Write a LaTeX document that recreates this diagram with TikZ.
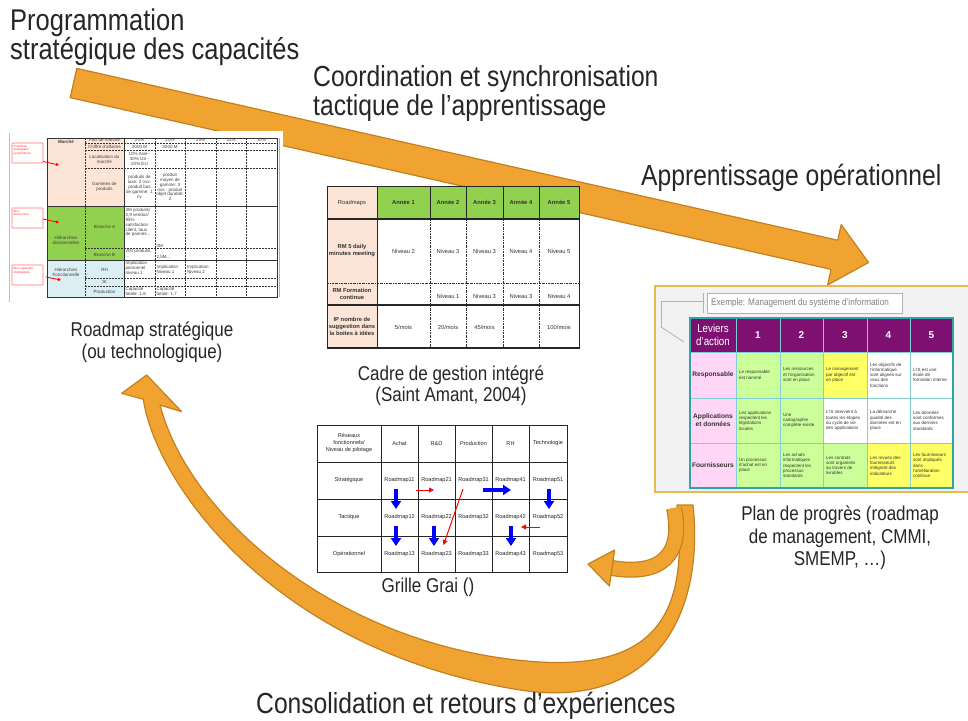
\documentclass[tikz,border=0pt]{standalone}
\usepackage{fontspec}
\setmainfont{Liberation Sans}
\newfontfamily\condfont[FakeStretch=0.85]{Liberation Sans}
\usetikzlibrary{arrows.meta}
\hyphenpenalty=10000
\exhyphenpenalty=10000
\definecolor{arrfill}{RGB}{240,163,48}
\definecolor{arrline}{RGB}{196,128,30}
\definecolor{peach}{RGB}{252,228,214}
\definecolor{xlgreen}{RGB}{146,208,80}
\definecolor{ltblue}{RGB}{218,238,243}
\definecolor{purp}{RGB}{125,16,112}
\definecolor{pinkc}{RGB}{255,214,245}
\definecolor{lgreen}{RGB}{204,255,153}
\definecolor{yel}{RGB}{255,255,102}
\definecolor{teal1}{RGB}{49,165,170}
\definecolor{teal2}{RGB}{130,205,210}
\definecolor{framec}{RGB}{232,185,80}
\definecolor{framefill}{RGB}{242,242,242}
\definecolor{hdrc}{RGB}{38,38,38}
\begin{document}
\begin{tikzpicture}[x=1pt,y=-1pt,
  hdr/.style={font=\condfont\fontsize{29}{29}\selectfont, text=hdrc, inner sep=0},
  lbl/.style={font=\condfont\fontsize{20}{22}\selectfont, text=hdrc, inner sep=0},
  ta/.style={font=\fontsize{4.5}{4.9}\selectfont, align=center, inner sep=0, text=black!75},
  tab/.style={font=\bfseries\fontsize{4.5}{4.9}\selectfont, align=center, inner sep=0, text=black!75},
  tb/.style={font=\fontsize{5.8}{7}\selectfont, align=center, inner sep=0, text=black!80},
  tbb/.style={font=\bfseries\fontsize{5.8}{7}\selectfont, align=center, inner sep=0, text=black!80},
  tc/.style={font=\fontsize{5.6}{7}\selectfont, align=center, inner sep=0, text=black!85},
  td/.style={font=\fontsize{4.5}{5.3}\selectfont, text width=34pt, align=flush left, inner sep=0, anchor=west, text=black!80},
  redtxt/.style={font=\fontsize{3}{3.6}\selectfont, text=red!80, align=left, inner sep=0, anchor=north west},
  redbox/.style={draw=red!55, line width=0.7pt, fill=white, rounded corners=0.5pt},
  tdash/.style={line width=0.7pt, dash pattern=on 2pt off 1pt, black!80},
  tsolid/.style={line width=0.9pt, black!80},
  t2dash/.style={line width=0.5pt, dash pattern=on 2pt off 1pt on 0.5pt off 1pt, black!80},
  bluearr/.style={blue, line width=3.6pt, -{Triangle[width=10pt,length=8pt]}},
  redarr/.style={red, line width=1pt, -{Triangle[width=5pt,length=5pt]}},
  bigarr/.style={fill=arrfill, draw=arrline, line width=1.2pt, line join=round}
]
\useasboundingbox (0,0) rectangle (968,720);
\fill[white] (0,0) rectangle (968,720);

% ---------- straight big arrow ----------
\coordinate (sa1) at (76.8,68.4);
\coordinate (sa2) at (837.7,240.2);
\coordinate (sa3) at (841.2,224.6);
\coordinate (sa4) at (868.5,262.5);
\coordinate (sa5) at (827.6,285.0);
\coordinate (sa6) at (831.1,269.4);
\coordinate (sa7) at (70.2,97.6);
\draw[bigarr] (sa1) -- (sa2) -- (sa3) -- (sa4) -- (sa5) -- (sa6) -- (sa7) -- cycle;

% ---------- big curved arrow (outline) ----------
\coordinate (bn1) at (143.3,399.3);
\coordinate (bb1) at (121.7,393.3);
\coordinate (btip) at (146.7,375);
\coordinate (bb2) at (181.7,411.7);
\coordinate (bn2) at (160,405);
\coordinate (bi1) at (540,662);
\coordinate (bt1) at (677,505);
\coordinate (bt2) at (693,505);
\coordinate (bo1) at (520,690);
\draw[bigarr] (bn1) -- (bb1) -- (btip) -- (bb2) -- (bn2)
  .. controls (190,520) and (345,650) .. (bi1)
  .. controls (650,668) and (690,620) .. (bt1) -- (bt2)
  .. controls (705,620) and (650,710) .. (bo1)
  .. controls (270,650) and (155,480) .. (bn1) -- cycle;

% ---------- small curved arrow ----------
\def\smallc{(674,508) .. controls (684,556) and (660,576) .. (612,568)}
\draw[line width=16pt, arrline] \smallc;
\draw[line width=13.6pt, arrfill] \smallc;
\coordinate (sm1) at (614.6,550);
\coordinate (sm2) at (588,564);
\coordinate (sm3) at (609.4,586);
\draw[bigarr] (sm1) -- (sm2) -- (sm3) -- cycle;

% ---------- headings ----------
\node[hdr, font=\condfont\fontsize{30}{30}\selectfont, anchor=base west] (h1a) at (10,30) {Programmation};
\node[hdr, font=\condfont\fontsize{30}{30}\selectfont, anchor=base west] (h1b) at (10,59) {stratégique des capacités};
\node[hdr, anchor=base west] (h2a) at (313,86) {Coordination et synchronisation};
\node[hdr, anchor=base west] (h2b) at (313,115) {tactique de l’apprentissage};
\node[hdr, anchor=base west] (h3) at (641,185) {Apprentissage opérationnel};
\node[hdr, anchor=base west] (h4) at (256,713) {Consolidation et retours d’expériences};

% ---------- labels ----------
\node[lbl, anchor=base] (l1a) at (152,336) {Roadmap stratégique};
\node[lbl, anchor=base] (l1b) at (152,358) {(ou technologique)};
\node[lbl, anchor=base] (l2a) at (451,380) {Cadre de gestion intégré};
\node[lbl, anchor=base] (l2b) at (451,401) {(Saint Amant, 2004)};
\node[lbl, anchor=base] (l3) at (428,592) {Grille Grai ()};
\node[lbl, anchor=base] (l4a) at (840,520) {Plan de progrès (roadmap};
\node[lbl, anchor=base] (l4b) at (840,543) {de management, CMMI,};
\node[lbl, anchor=base] (l4c) at (840,565) {SMEMP, …)};

% ================= Table 1 : roadmap strategique =================
\fill[white] (8,131) rectangle (283,304);
\draw[gray!50, line width=1pt] (9,133) -- (9,302);
\fill[peach] (47,138) rectangle (124,206);
\fill[xlgreen] (47,206) rectangle (124,260);
\fill[ltblue] (47,260) rectangle (124,297);
\foreach \yy in {143,150,168,248,278,286} \draw[tdash] (85,\yy) -- (277,\yy);
\foreach \xx in {85,155,185,216,246} \draw[tdash] (\xx,138) -- (\xx,297);
\draw[tsolid] (47,138) rectangle (277,297);
\draw[tsolid] (124,138) -- (124,297);
\draw[tsolid] (47,206) -- (277,206);
\draw[tsolid] (47,260) -- (277,260);
\draw[gray!60, line width=0.5pt] (279,138) -- (279,297);
% red boxes
\draw[redbox] (12,143) rectangle (43,163);
\draw[redbox] (12,208) rectangle (43,228);
\draw[redbox] (12,265) rectangle (43,285);
\node[redtxt] (rb1) at (13.5,145) {Roadmap\\stratégique\\(exportation)};
\node[redtxt] (rb2) at (13.5,210) {Bloc\\décisionnel};
\node[redtxt] (rb3) at (13.5,267) {Bloc capacités\\stratégiques};
\draw[red, line width=0.8pt, -{Triangle[width=3pt,length=3pt]}] (43,161.5) -- (59,165);
\draw[red, line width=0.8pt, -{Triangle[width=3pt,length=3pt]}] (43,219) -- (59,222.5);
\draw[red, line width=0.8pt, -{Triangle[width=3pt,length=3pt]}] (46,277) -- (61,280);
% texts col 1
\node[tab] (m1) at (66,141.5) {Marché};
\node[ta] (m2) at (66,240) {Hiérarchies\\divisionnelles};
\node[ta] (m3) at (66,272) {Hiérarchies\\Fonctionnelle};
% col 2
\node[ta] (c21) at (104.5,140.3) {Part de marché};
\node[ta] (c22) at (104.5,146.6) {Chiffre d’affaires};
\node[ta] (c23) at (104.5,159) {Localisation du\\marché};
\node[ta] (c24) at (104.5,187) {Gammes de\\produits};
\node[ta] (c25) at (104.5,227) {Branche A};
\node[ta] (c26) at (104.5,254.5) {Branche B};
\node[ta] (c27) at (104.5,269.5) {RH};
\node[ta] (c28) at (104.5,282) {SI};
\node[ta] (c29) at (104.5,291.5) {Production};
% col 3
\node[ta] (c31) at (139.5,140.3) {20\%};
\node[ta] (c32) at (139.5,146.6) {2000 M};
\node[ta] (c33) at (139.5,159) {10\% Asie -\\30\% US -\\20\% EU};
\node[ta] (c34) at (139.5,187) {produits de\\luxe: 2 nvx-\\produit bas\\de gamme: 1\\nv};
\node[ta, align=left, anchor=north west] (c35) at (125.5,208) {3M produits/\\2,9 vendus/\\95\%\\satisfaction\\client, taux\\de pannes...};
\node[ta, align=left, anchor=north west] (c36) at (125.5,249.5) {200 produits,\\...};
\node[ta, align=left, anchor=north west] (c37) at (125.5,261.5) {Implication\\personnel\\niveau 1};
\node[ta, align=left, anchor=north west] (c38) at (125.5,287) {Capacité\\totale: 1,6};
% col 4
\node[ta] (c41) at (170,140.3) {20\%};
\node[ta] (c42) at (170,146.6) {3000 M};
\node[ta] (c43) at (170,187) {produit\\moyen de\\gamme: 3\\nvx - produit\\objet durable:\\2};
\node[ta, anchor=west] (c44) at (156.5,245.5) {3M};
\node[ta, anchor=west] (c45) at (156.5,257.5) {2,5M...};
\node[ta, align=left, anchor=north west] (c46) at (156.5,265) {Implication\\Niveau 1};
\node[ta, align=left, anchor=north west] (c47) at (156.5,287) {Capacité\\totale: 1,7};
% col 5-7
\node[ta] (c51) at (200.5,140.3) {25\%};
\node[ta, align=left, anchor=north west] (c52) at (187,265) {Implication\\Niveau 2};
\node[ta] (c61) at (231,140.3) {22\%};
\node[ta] (c71) at (261.5,140.3) {30\%};

% ================= Table 2 : cadre de gestion =================
\fill[white] (327,186) rectangle (579,348);
\fill[peach] (327,186) rectangle (377,348);
\fill[xlgreen] (377,186) rectangle (579,219);
\foreach \xx in {430,466,503,539} \draw[t2dash] (\xx,219) -- (\xx,348);
\draw[t2dash] (327,283) -- (579,283);
\draw[line width=0.6pt, black!85] (327,186) rectangle (579,348);
\foreach \xx in {377,430,466,503,539} \draw[line width=0.6pt, black!85] (\xx,186) -- (\xx,219);
\draw[line width=0.6pt, black!85] (377,219) -- (377,348);
\draw[line width=1.5pt, black!85] (327,219) -- (579,219);
\draw[line width=1.5pt, black!85] (327,305) -- (579,305);
\draw[line width=1.2pt, black!85] (327,348) -- (579,348);
\node[tb] (k00) at (352,202.5) {Roadmaps};
\node[tbb] (k01) at (403.5,202.5) {Année 1};
\node[tbb] (k02) at (448,202.5) {Année 2};
\node[tbb] (k03) at (484.5,202.5) {Année 3};
\node[tbb] (k04) at (521,202.5) {Année 4};
\node[tbb] (k05) at (559,202.5) {Année 5};
\node[tbb] (k10) at (352,251) {RM 5 daily\\minutes meeting};
\node[tb] (k11) at (403.5,251) {Niveau 2};
\node[tb] (k12) at (448,251) {Niveau 3};
\node[tb] (k13) at (484.5,251) {Niveau 3};
\node[tb] (k14) at (521,251) {Niveau 4};
\node[tb] (k15) at (559,251) {Niveau 5};
\node[tbb] (k20) at (352,294) {RM Formation\\continue};
\node[tb] (k22) at (448,296) {Niveau 1};
\node[tb] (k23) at (484.5,296) {Niveau 3};
\node[tb] (k24) at (521,296) {Niveau 3};
\node[tb] (k25) at (559,296) {Niveau 4};
\node[tbb] (k30) at (352,326.5) {IP nombre de\\suggestion dans\\la boites à idées};
\node[tb] (k31) at (403.5,327) {5/mois};
\node[tb] (k32) at (448,327) {20/mois};
\node[tb] (k33) at (484.5,327) {45/mois};
\node[tb] (k35) at (559,327) {100/mois};

% ================= Table 3 : grille Grai =================
\fill[white] (317,425) rectangle (567,572);
\foreach \xx in {381,418,455,492,529} \draw[line width=0.6pt, black!85] (\xx,425) -- (\xx,572);
\foreach \yy in {462,499,536} \draw[line width=0.6pt, black!85] (317,\yy) -- (567,\yy);
\draw[line width=0.8pt, black!85] (317,425) rectangle (567,572);
\node[tc] (g00) at (349,443.5) {Réseaux\\fonctionnels/\\Niveau de pilotage};
\node[tc] (g01) at (399.5,443.5) {Achat};
\node[tc] (g02) at (436.5,443.5) {R\&D};
\node[tc] (g03) at (473.5,443.5) {Production};
\node[tc] (g04) at (510.5,443.5) {RH};
\node[tc] (g05) at (548,443.5) {Technologie};
\node[tc] (g10) at (349,480.5) {Stratégique};
\node[tc] (g20) at (349,517.5) {Tactique};
\node[tc] (g30) at (349,554) {Opérationnel};
\foreach \c/\xx in {1/399.5,2/436.5,3/473.5,4/510.5,5/548}{
  \node[tc] (g1\c) at (\xx,480.5) {Roadmap\c1};
  \node[tc] (g2\c) at (\xx,517.5) {Roadmap\c2};
  \node[tc] (g3\c) at (\xx,554) {Roadmap\c3};
}
\draw[bluearr] (396,489) -- (396,509);
\draw[bluearr] (396,526) -- (396,546);
\draw[bluearr] (434,526) -- (434,546);
\draw[bluearr] (549,489) -- (549,509);
\draw[bluearr] (511,526) -- (511,546);
\draw[bluearr] (483,490) -- (511,490);
\draw[redarr] (416,490) -- (434,490);
\draw[redarr] (463,489) -- (443.5,545);
\draw[redarr] (540,527) -- (521,527);

% ================= Table 4 : plan de progres =================
\draw[fill=framefill, draw=framec, line width=1.5pt] (655,286) rectangle (980,492);
\draw[gray!60, line width=0.8pt] (661,327) -- (684,342);
\draw[gray!60, line width=0.8pt] (661,327) -- (661,301) -- (703,301);
\draw[gray!60, line width=0.8pt] (703,292.5) -- (703,313);
\node[draw=gray!60, fill=white, line width=0.8pt, minimum width=195pt, minimum height=20pt, inner sep=0, anchor=north west] (ex) at (707,293) {};
\node[font=\condfont\fontsize{9.6}{11}\selectfont, text=gray, anchor=west, inner sep=0] (ext) at (711,303) {Exemple: Management du système d’information};
% fills
\fill[purp] (690,318) rectangle (953,352);
\fill[pinkc] (690,352) rectangle (736,488);
\fill[lgreen] (736,352) rectangle (823,398);
\fill[yel] (823,352) rectangle (867,398);
\fill[white] (867,352) rectangle (953,398);
\fill[lgreen] (736,398) rectangle (823,443);
\fill[white] (823,398) rectangle (953,443);
\fill[lgreen] (736,443) rectangle (867,488);
\fill[yel] (867,443) rectangle (953,488);
\foreach \xx in {736,780,823,867,910} \draw[teal2, line width=1pt] (\xx,318) -- (\xx,488);
\foreach \yy in {352,398,443} \draw[teal2, line width=1pt] (690,\yy) -- (953,\yy);
\draw[teal1, line width=2pt] (690,318) rectangle (953,488);
\node[font=\condfont\fontsize{11.5}{12.5}\selectfont, text=white, align=center, inner sep=0] (p00) at (713,335) {Leviers\\d’action};
\foreach \n/\xx in {1/758,2/801.5,3/845,4/888.5,5/931.5}
  \node[font=\bfseries\fontsize{10}{11}\selectfont, text=white, inner sep=0] (p0\n) at (\xx,335) {\n};
\node[font=\bfseries\fontsize{6.6}{8}\selectfont, text=black!80, inner sep=0] (p10) at (713,375) {Responsable};
\node[font=\bfseries\fontsize{6.6}{8}\selectfont, text=black!80, align=center, inner sep=0] (p20) at (713,420.5) {Applications\\et données};
\node[font=\bfseries\fontsize{6.6}{8}\selectfont, text=black!80, inner sep=0] (p30) at (713,465.5) {Fournisseurs};
\node[td] (p11) at (739,375) {Le responsable est nommé};
\node[td] (p12) at (783,375) {Les ressources et l’organisation sont en place};
\node[td] (p13) at (826,375) {Le management par objectif est en place};
\node[td] (p14) at (870,375) {Les objectifs de l’informatique sont alignés sur ceux des fonctions};
\node[td] (p15) at (913,375) {L’IS est une école de formation interne};
\node[td] (p21) at (739,420.5) {Les applications respectent les législations locales};
\node[td] (p22) at (783,420.5) {Une cartographie complète existe};
\node[td] (p23) at (826,420.5) {L’IS intervient à toutes les étapes du cycle de vie des applications};
\node[td] (p24) at (870,420.5) {La démarche qualité des données est en place};
\node[td] (p25) at (913,420.5) {Les données sont conformes aux derniers standards};
\node[td] (p31) at (739,465.5) {Un processus d’achat est en place};
\node[td] (p32) at (783,465.5) {Les achats informatiques respectent les processus standards};
\node[td] (p33) at (826,465.5) {Les contrats sont organisés au travers de livrables};
\node[td] (p34) at (870,465.5) {Les revues des fournisseurs intègrent des indicateurs};
\node[td] (p35) at (913,465.5) {Les fournisseurs sont impliqués dans l’amélioration continue};
\end{tikzpicture}
\end{document}
